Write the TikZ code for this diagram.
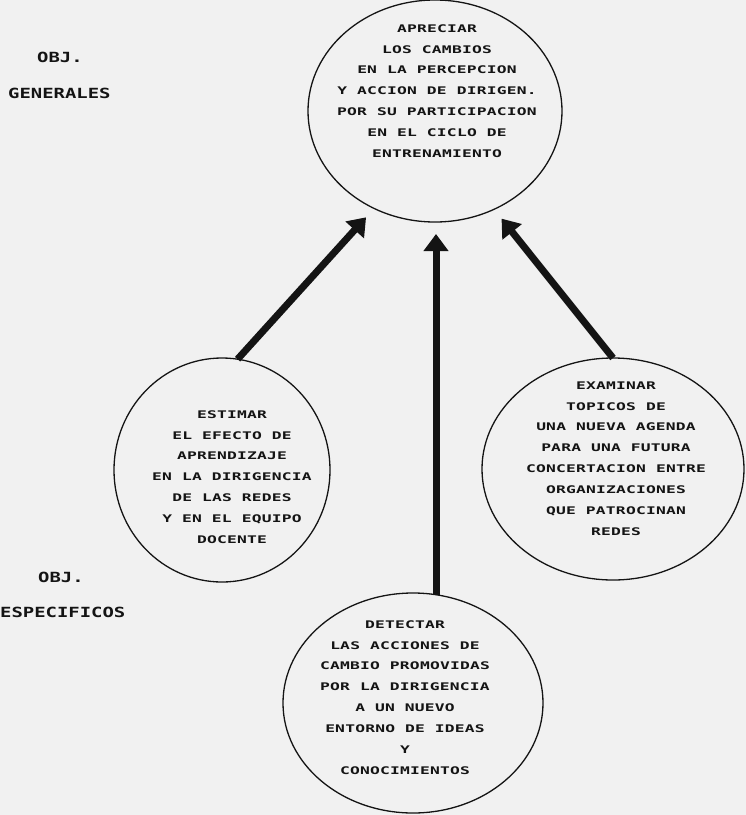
\documentclass[tikz,border=0pt]{standalone}
\usepackage{fontspec}
\usetikzlibrary{arrows.meta,shapes.geometric}
% plotter-like lettering: wide, evenly pitched capitals
\newfontfamily\plotfont[FakeStretch=1.55,LetterSpace=2,BoldFont={DejaVu Sans Mono Bold}]{DejaVu Sans Mono}
\newfontfamily\sidefont[FakeStretch=1.35,LetterSpace=0]{DejaVu Sans Mono}
\definecolor{paper}{RGB}{241,241,241}
\definecolor{ink}{RGB}{20,20,20}
\begin{document}
\begin{tikzpicture}[x=1pt,y=-1pt,
  goal/.style={draw=ink, line width=1.3pt, ellipse, inner sep=0pt, outer sep=0pt},
  txt/.style={font=\plotfont\bfseries\fontsize{10.5}{20.9}\selectfont, align=center, inner sep=0pt, text=ink},
  lab/.style={font=\sidefont\bfseries\fontsize{14}{17}\selectfont, inner sep=0pt, text=ink, anchor=base west},
  link/.style={draw=ink, line width=7pt, -{Triangle[length=17pt,width=24pt]}, shorten >=12pt}]
\fill[paper] (0,0) rectangle (746,815);
\useasboundingbox (0,0) rectangle (746,815);

% objective ellipses
\node[goal, minimum width=254pt, minimum height=222pt] (T) at (435,111) {};
\node[goal, minimum width=216pt, minimum height=224pt] (L) at (222,470) {};
\node[goal, minimum width=262pt, minimum height=222pt] (R) at (613,469) {};
\node[goal, minimum width=260pt, minimum height=220pt] (B) at (413,703) {};

% ellipse texts
\node[txt] (Tt) at (437,91) {APRECIAR\\LOS CAMBIOS\\EN LA PERCEPCION\\Y ACCION DE DIRIGEN.\\POR SU PARTICIPACION\\EN EL CICLO DE\\ENTRENAMIENTO};
\node[txt] (Lt) at (232,477) {ESTIMAR\\EL EFECTO DE\\APRENDIZAJE\\EN LA DIRIGENCIA\\DE LAS REDES\\Y EN EL EQUIPO\\DOCENTE};
\node[txt] (Rt) at (616,458.5) {EXAMINAR\\TOPICOS DE\\UNA NUEVA AGENDA\\PARA UNA FUTURA\\CONCERTACION ENTRE\\ORGANIZACIONES\\QUE PATROCINAN\\REDES};
\node[txt] (Bt) at (405,697.5) {DETECTAR\\LAS ACCIONES DE\\CAMBIO PROMOVIDAS\\POR LA DIRIGENCIA\\A UN NUEVO\\ENTORNO DE IDEAS\\Y\\CONOCIMIENTOS};

% side labels
\node[lab] (og) at (37,62) {OBJ.};
\node[lab] (gen) at (8,98) {GENERALES};
\node[lab] (oe) at (38,582) {OBJ.};
\node[lab] (esp) at (0,617) {ESPECIFICOS};

% arrows towards the general objective
\draw[link] (L.82) -- (T.238.5);
\draw[link] (R.90.5) -- (T.301.3);
\draw[link] (B.78) -- (B.78 |- T.south);
\end{tikzpicture}
\end{document}
